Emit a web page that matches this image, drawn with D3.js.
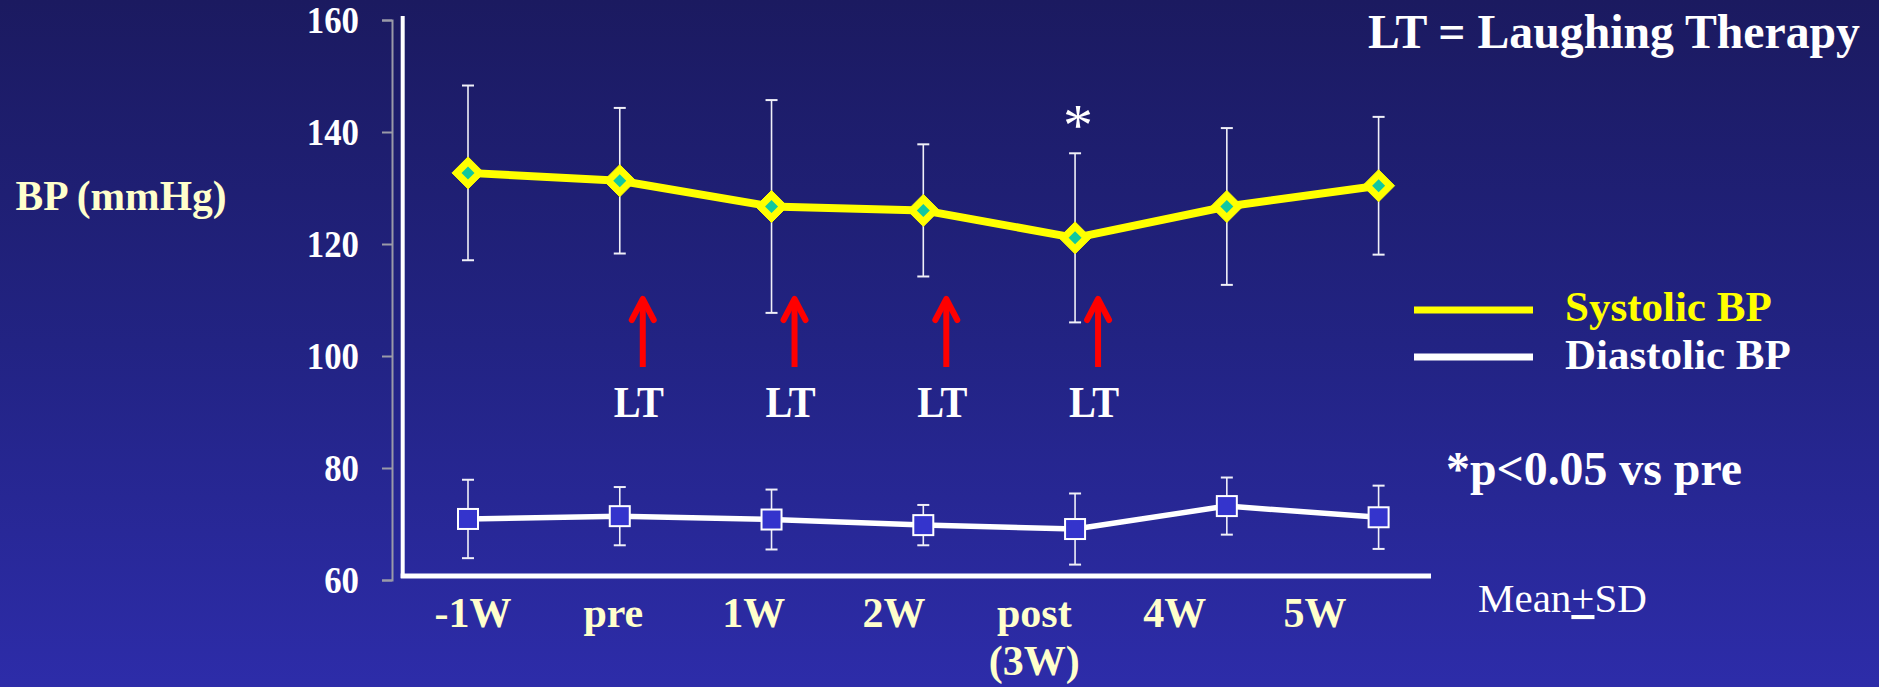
<!DOCTYPE html>
<html>
<head>
<meta charset="utf-8">
<script src="https://cdn.jsdelivr.net/npm/d3@7"></script>
<style>
  html, body { margin: 0; padding: 0; background: #1f1f78; }
  svg { display: block; }
  text { font-family: "Liberation Serif", "Times New Roman", serif; }
</style>
</head>
<body>
<svg id="chart" width="1879" height="687"></svg>
<script>
// ---- data ----
const categories = ["-1W", "pre", "1W", "2W", "post", "4W", "5W"];
const xTickLabels = [["-1W"], ["pre"], ["1W"], ["2W"], ["post", "(3W)"], ["4W"], ["5W"]];
const systolicMean = [132.7, 131.3, 126.7, 126.0, 121.1, 126.7, 130.4];
const systolicSD   = [15.6, 13.0, 19.0, 11.8, 15.1, 14.0, 12.3];
const diastolicMean = [70.9, 71.4, 70.8, 69.8, 69.1, 73.2, 71.2];
const diastolicSD   = [7.0, 5.2, 5.35, 3.6, 6.35, 5.1, 5.65];
const yTicks = [60, 80, 100, 120, 140, 160];
const ltCategories = ["pre", "1W", "2W", "post"];
const significantCategories = ["post"];

// ---- setup ----
const W = 1879, H = 687;
const svg = d3.select("#chart");

const defs = svg.append("defs");
const grad = defs.append("linearGradient").attr("id", "bg").attr("x1", 0).attr("y1", 0).attr("x2", 0).attr("y2", 1);
grad.append("stop").attr("offset", "0%").attr("stop-color", "#1b1a60");
grad.append("stop").attr("offset", "50%").attr("stop-color", "#222383");
grad.append("stop").attr("offset", "100%").attr("stop-color", "#2d2ca9");
svg.append("rect").attr("width", W).attr("height", H).attr("fill", "url(#bg)");

const y = d3.scaleLinear().domain([60, 160]).range([580, 20]);
const x = d3.scalePoint().domain(categories).range([468, 1378.6]);
const xLab = d3.scalePoint().domain(categories).range([473, 1315]);

// ---- y axis (gray bracket) ----
const yAxis = d3.axisLeft(y).tickValues(yTicks).tickSize(10).tickSizeOuter(10).tickPadding(23).tickFormat(d3.format("d"));
const gy = svg.append("g").attr("transform", "translate(392,0)").call(yAxis);
gy.select(".domain").attr("stroke", "#9a9aa8").attr("stroke-width", 2);
gy.selectAll(".tick line").attr("stroke", "#9a9aa8").attr("stroke-width", 2);
gy.selectAll(".tick text")
  .attr("fill", "#ffffff").attr("font-size", 37).attr("font-weight", "bold")
  .attr("font-family", "Liberation Serif, serif").attr("dy", "0.34em")
  .attr("textLength", d => String(d).length * 17.4).attr("lengthAdjust", "spacingAndGlyphs");

// ---- white frame ----
svg.append("line").attr("x1", 402.7).attr("x2", 402.7).attr("y1", 16).attr("y2", 578)
  .attr("stroke", "#ffffff").attr("stroke-width", 4);
svg.append("line").attr("x1", 400.7).attr("x2", 1431).attr("y1", 576).attr("y2", 576)
  .attr("stroke", "#ffffff").attr("stroke-width", 5);

// ---- x labels ----
const gx = svg.append("g");
categories.forEach((c, i) => {
  const t = gx.append("text").attr("x", xLab(c)).attr("y", 627)
    .attr("text-anchor", "middle").attr("font-size", 42).attr("font-weight", "bold").attr("fill", "#ffffcc");
  xTickLabels[i].forEach((s, j) => {
    t.append("tspan").attr("x", xLab(c)).attr("dy", j === 0 ? 0 : 48).text(s);
  });
});

// ---- y title ----
svg.append("text").attr("x", 15.6).attr("y", 210).attr("font-size", 41.5).attr("font-weight", "bold")
  .attr("fill", "#ffffcc").text("BP (mmHg)");

// ---- error bars ----
function errorBars(means, sds, cls) {
  const g = svg.append("g").attr("class", cls);
  categories.forEach((c, i) => {
    const cx = x(c), top = y(means[i] + sds[i]), bot = y(means[i] - sds[i]);
    g.append("line").attr("x1", cx).attr("x2", cx).attr("y1", top).attr("y2", bot)
      .attr("stroke", "#f0f0f8").attr("stroke-width", 1.6);
    [top, bot].forEach(v => g.append("line").attr("x1", cx - 6).attr("x2", cx + 6).attr("y1", v).attr("y2", v)
      .attr("stroke", "#f0f0f8").attr("stroke-width", 2));
  });
}
errorBars(systolicMean, systolicSD, "sys-err");
errorBars(diastolicMean, diastolicSD, "dia-err");

// ---- lines ----
const line = d3.line().x(d => x(d.c)).y(d => y(d.v));
const sysData = categories.map((c, i) => ({ c, v: systolicMean[i] }));
const diaData = categories.map((c, i) => ({ c, v: diastolicMean[i] }));
svg.append("path").datum(sysData).attr("d", line).attr("fill", "none")
  .attr("stroke", "#ffff00").attr("stroke-width", 8).attr("stroke-linejoin", "round");
svg.append("path").datum(diaData).attr("d", line).attr("fill", "none")
  .attr("stroke", "#ffffff").attr("stroke-width", 5.5).attr("stroke-linejoin", "round");

// ---- markers ----
const diamond = (cx, cy, r) => `M${cx},${cy - r}L${cx + r},${cy}L${cx},${cy + r}L${cx - r},${cy}Z`;
svg.append("g").selectAll("path.outer").data(sysData).join("path")
  .attr("d", d => diamond(x(d.c), y(d.v), 16)).attr("fill", "#ffff00")
  .attr("stroke", "#ffff00").attr("stroke-width", 1).attr("stroke-linejoin", "round");
svg.append("g").selectAll("path.inner").data(sysData).join("path")
  .attr("d", d => diamond(x(d.c), y(d.v), 6.5)).attr("fill", "#10c8a0");
svg.append("g").selectAll("rect").data(diaData).join("rect")
  .attr("x", d => x(d.c) - 10).attr("y", d => y(d.v) - 10).attr("width", 20).attr("height", 20)
  .attr("fill", "#3434cc").attr("stroke", "#ffffff").attr("stroke-width", 2);

// ---- significance asterisk ----
significantCategories.forEach(c => {
  svg.append("text").attr("x", x(c) + 3).attr("y", 145).attr("text-anchor", "middle")
    .attr("font-size", 60).attr("fill", "#ffffff").text("*");
});

// ---- LT arrows ----
ltCategories.forEach(c => {
  const ax = x(c) + 23;
  const g = svg.append("g").attr("stroke", "#ff0000").attr("stroke-width", 6).attr("fill", "none")
    .attr("stroke-linecap", "round").attr("stroke-linejoin", "round");
  g.append("line").attr("x1", ax).attr("x2", ax).attr("y1", 301).attr("y2", 367).attr("stroke-linecap", "butt");
  g.append("path").attr("d", `M${ax - 11},${320}L${ax},${299}L${ax + 11},${320}`);
  svg.append("text").attr("x", ax - 4).attr("y", 417).attr("text-anchor", "middle")
    .attr("font-size", 44).attr("font-weight", "bold").attr("fill", "#ffffff")
    .attr("textLength", 50).attr("lengthAdjust", "spacingAndGlyphs").text("LT");
});

// ---- title ----
svg.append("text").attr("x", 1368).attr("y", 48).attr("font-size", 48).attr("font-weight", "bold")
  .attr("fill", "#ffffff").attr("textLength", 492).attr("lengthAdjust", "spacingAndGlyphs")
  .text("LT = Laughing Therapy");

// ---- legend ----
const legend = [
  { label: "Systolic BP", color: "#ffff00", textColor: "#ffff00", y: 310, ty: 321 },
  { label: "Diastolic BP", color: "#ffffff", textColor: "#ffffff", y: 357, ty: 369 }
];
legend.forEach(l => {
  svg.append("line").attr("x1", 1414).attr("x2", 1533).attr("y1", l.y).attr("y2", l.y)
    .attr("stroke", l.color).attr("stroke-width", 7);
  svg.append("text").attr("x", 1565).attr("y", l.ty).attr("font-size", 43).attr("font-weight", "bold")
    .attr("fill", l.textColor).text(l.label);
});

// ---- notes ----
svg.append("text").attr("x", 1446).attr("y", 485).attr("font-size", 48).attr("font-weight", "bold")
  .attr("fill", "#ffffff").attr("textLength", 296).attr("lengthAdjust", "spacingAndGlyphs")
  .text("*p<0.05 vs pre");
const ms = svg.append("text").attr("x", 1478).attr("y", 612).attr("font-size", 41).attr("fill", "#ffffff");
ms.append("tspan").text("Mean");
ms.append("tspan").attr("text-decoration", "underline").text("+");
ms.append("tspan").text("SD");
</script>
</body>
</html>
